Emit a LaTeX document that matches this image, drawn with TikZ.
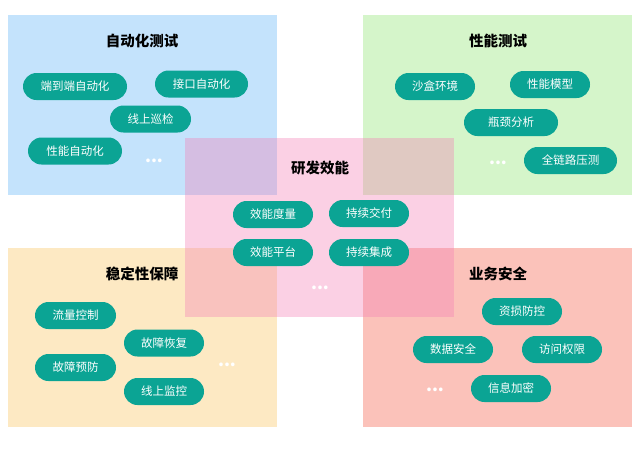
\documentclass[tikz,border=0pt]{standalone}
\usepackage{fontspec}
\setmainfont{Noto Sans CJK SC}
\usetikzlibrary{positioning}
\definecolor{qaBlue}{HTML}{C4E3FC}
\definecolor{qaGreen}{HTML}{D5F5CA}
\definecolor{qaAmber}{HTML}{FDE9C3}
\definecolor{qaRed}{HTML}{FBC2BA}
\definecolor{qaPink}{HTML}{F480B6}
\definecolor{qaTeal}{HTML}{0BA494}
\tikzset{
  chip/.style={rounded corners=13.5pt, fill=qaTeal, text=white, minimum height=27pt,
              inner sep=0pt, font=\fontsize{11.5}{13}\selectfont},
  ttl/.style={font=\fontsize{14.5}{16}\selectfont\bfseries, text=black},
  more/.style={font=\fontsize{17}{18}\selectfont\bfseries, text=white},
}

\begin{document}
\begin{tikzpicture}[x=1pt,y=-1pt]
        \useasboundingbox (0,0) rectangle (640,448);
        % areas
        \fill[qaBlue]  (8,15)   rectangle (277,195);
        \fill[qaGreen] (363,15) rectangle (632,195);
        \fill[qaAmber] (8,248)  rectangle (277,427);
        \fill[qaRed]   (363,248) rectangle (632,427);
        \fill[qaPink,fill opacity=0.37] (185,138) rectangle (454,317);
        % titles
        \node[ttl] (tAuto) at (142,41)  {自动化测试};
        \node[ttl] (tPerf) at (498,41)  {性能测试};
        \node[ttl] (tEff)  at (320,168) {研发效能};
        \node[ttl] (tStab) at (142,274) {稳定性保障};
        \node[ttl] (tSec)  at (498,274) {业务安全};
        % chips
        \foreach \n/\t/\x/\y/\w in {e2e/端到端自动化/75/86.5/104, api/接口自动化/201.5/84/93,
            patrol/线上巡检/150.5/119/81, perfAuto/性能自动化/75/151/94,
            sandbox/沙盒环境/435/86.5/80, model/性能模型/550/84.5/80,
            neck/瓶颈分析/511/122.5/94, chain/全链路压测/570.5/160.5/93,
            measure/效能度量/273/214.5/80, deliver/持续交付/369/213.5/80,
            platform/效能平台/273/252.5/80, integ/持续集成/369/252.5/80,
            flow/流量控制/75.5/315.5/81, recover/故障恢复/164/343/80,
            prevent/故障预防/75.5/367.5/81, monitor/线上监控/164/391.5/80,
            loss/资损防控/522/311.5/80, data/数据安全/453/349.5/80,
            access/访问权限/562/349.5/80, crypt/信息加密/511/388.5/80}{
          \node[chip,minimum width=\w pt] (\n) at (\x,\y) {\t};
        }
        % more
        \node[more] (mAuto) at (154,161) {...};
        \node[more] (mPerf) at (498,163) {...};
        \node[more] (mEff)  at (320,288) {...};
        \node[more] (mStab) at (227,365) {...};
        \node[more] (mSec)  at (435,390) {...};
      \end{tikzpicture}
\end{document}
